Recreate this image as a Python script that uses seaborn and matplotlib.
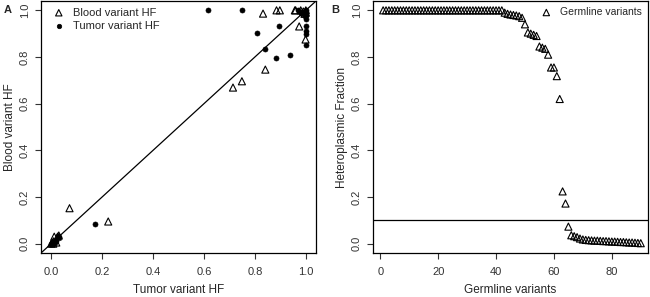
import numpy as np
import pandas as pd
import matplotlib
matplotlib.use("Agg")
import matplotlib.pyplot as plt
import seaborn as sns

# Panel A - somatic variants: tumor HF (x) vs blood HF (y)
blood_x = [0.0, 0.005, 0.008, 0.01, 0.012, 0.02, 0.025, 0.03, 0.072, 0.224,
           0.714, 0.749, 0.841, 0.832, 0.885, 0.898, 0.957, 0.974, 0.999,
           0.96, 0.98, 0.99, 1.0, 1.0, 0.995]
blood_y = [0.0, 0.005, 0.0, 0.01, 0.03, 0.005, 0.03, 0.035, 0.152, 0.095,
           0.669, 0.696, 0.746, 0.986, 1.0, 1.0, 1.0, 0.931, 0.875,
           1.0, 1.0, 0.995, 0.99, 1.0, 0.985]
tumor_x = [0.0, 0.005, 0.01, 0.012, 0.015, 0.02, 0.028, 0.03, 0.172,
           0.616, 0.75, 0.807, 0.841, 0.884, 0.893, 0.937,
           0.999, 0.999, 0.999, 0.999, 0.999,
           0.97, 0.985, 0.99, 1.0, 1.0, 0.995, 1.0, 0.98]
tumor_y = [0.0, 0.002, 0.008, 0.005, 0.012, 0.01, 0.033, 0.03, 0.083,
           1.0, 1.0, 0.901, 0.835, 0.795, 0.931, 0.807,
           0.964, 0.931, 0.91, 0.90, 0.853,
           1.0, 0.995, 0.99, 1.0, 0.98, 0.975, 0.995, 0.99]

# Panel B - germline variants, sorted heteroplasmic fraction
germline_hf = [1.0] * 42 + [
    0.99, 0.985, 0.982, 0.98, 0.978, 0.975, 0.968, 0.94, 0.905, 0.9,
    0.895, 0.89, 0.845, 0.84, 0.835, 0.81, 0.755, 0.755, 0.718, 0.62,
    0.224, 0.172, 0.073, 0.036, 0.032, 0.028, 0.022, 0.018, 0.016, 0.015,
    0.014, 0.013, 0.013, 0.012, 0.011, 0.011, 0.010, 0.009, 0.009, 0.008,
    0.007, 0.007, 0.006, 0.005, 0.005, 0.004, 0.003, 0.002]
germline_idx = np.arange(1, len(germline_hf) + 1)
cutoff = 0.1

sns.set_style("ticks")
plt.rcParams['font.family'] = ['Liberation Sans', 'DejaVu Sans']

fig = plt.figure(figsize=(6.5, 2.97), dpi=100)
axA = fig.add_axes([41/650, 1 - 253/297, 275/650, 252/297])
axB = fig.add_axes([373/650, 1 - 253/297, 275/650, 252/297])

dfA_blood = pd.DataFrame({"x": blood_x, "y": blood_y})
dfA_tumor = pd.DataFrame({"x": tumor_x, "y": tumor_y})
dfB = pd.DataFrame({"i": germline_idx, "hf": germline_hf})

sns.scatterplot(data=dfA_blood, x="x", y="y", ax=axA, marker="^", s=26,
                facecolor="none", edgecolor="black", linewidth=0.8,
                label="Blood variant HF")
sns.scatterplot(data=dfA_tumor, x="x", y="y", ax=axA, marker="o", s=13,
                color="black", edgecolor="black", linewidth=0.5,
                label="Tumor variant HF")
axA.axline((0, 0), slope=1, color="black", lw=0.9)

sns.scatterplot(data=dfB, x="i", y="hf", ax=axB, marker="^", s=26,
                facecolor="none", edgecolor="black", linewidth=0.8,
                label="Germline variants")
axB.axhline(cutoff, color="black", lw=0.9)

ticks = [0.0, 0.2, 0.4, 0.6, 0.8, 1.0]
for ax in (axA, axB):
    ax.set_ylim(-0.04, 1.04)
    ax.set_yticks(ticks)
    ax.set_yticklabels([f"{t:.1f}" for t in ticks], rotation=90, va="center")
    ax.tick_params(labelsize=8, length=4, width=0.8, pad=4, colors="#333333")
    ax.tick_params(axis="x", pad=6)
    for s in ax.spines.values():
        s.set_visible(True)
        s.set_linewidth(0.9)
        s.set_color("black")

axA.set_xlim(-0.04, 1.04)
axA.set_xticks(ticks)
axA.set_xticklabels([f"{t:.1f}" for t in ticks])
axA.set_xlabel("Tumor variant HF", fontsize=8.5, labelpad=5)
axA.set_ylabel("Blood variant HF", fontsize=8.5, labelpad=3)

axB.set_xlim(-2.5, 92.5)
axB.set_xticks([0, 20, 40, 60, 80])
axB.set_xlabel("Germline variants", fontsize=8.5, labelpad=5)
axB.set_ylabel("Heteroplasmic Fraction", fontsize=8.5, labelpad=3)

axA.legend(loc="upper left", frameon=False, fontsize=8, handletextpad=0.3,
           borderaxespad=0.2, labelspacing=0.3, markerscale=0.9)
axB.legend(loc="upper right", frameon=False, fontsize=7.5, handletextpad=0.3,
           borderaxespad=0.2, markerscale=0.9)

fig.text(8/650, 1 - 10/297, "A", fontsize=8, fontweight="bold", ha="center", va="center")
fig.text(335/650, 1 - 10/297, "B", fontsize=8, fontweight="bold", ha="center", va="center")

fig.savefig("out.png", dpi=100)
